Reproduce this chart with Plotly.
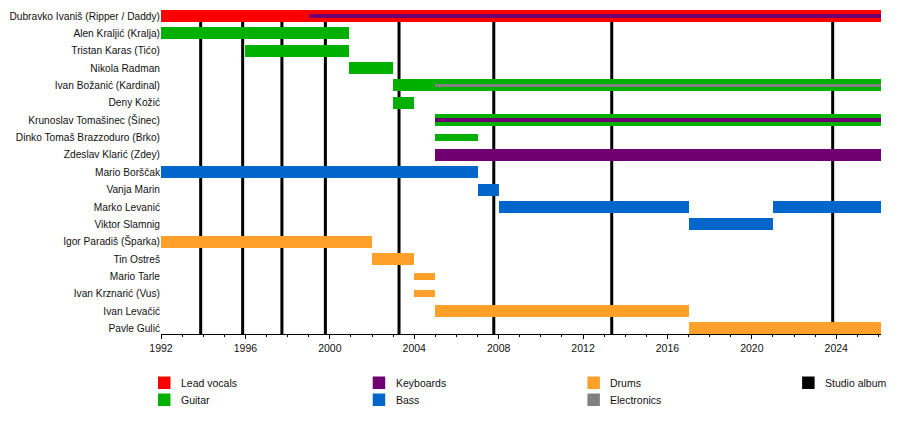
import plotly.graph_objects as go

# --- data ---
END = 2026.12

members = [
    "Dubravko Ivaniš (Ripper / Daddy)",
    "Alen Kraljić (Kralja)",
    "Tristan Karas (Tićo)",
    "Nikola Radman",
    "Ivan Božanić (Kardinal)",
    "Deny Kožić",
    "Krunoslav Tomašinec (Šinec)",
    "Dinko Tomaš Brazzoduro (Brko)",
    "Zdeslav Klarić (Zdey)",
    "Mario Borščak",
    "Vanja Marin",
    "Marko Levanić",
    "Viktor Slamnig",
    "Igor Paradiš (Šparka)",
    "Tin Ostreš",
    "Mario Tarle",
    "Ivan Krznarić (Vus)",
    "Ivan Levačić",
    "Pavle Gulić",
]

vocals_who = ["Dubravko Ivaniš (Ripper / Daddy)"]
vocals_from = [1992]
vocals_to = [END]

guitar_who = ["Alen Kraljić (Kralja)", "Tristan Karas (Tićo)", "Nikola Radman",
              "Ivan Božanić (Kardinal)", "Deny Kožić", "Krunoslav Tomašinec (Šinec)",
              "Dinko Tomaš Brazzoduro (Brko)"]
guitar_from = [1992, 1996, 2000.9, 2003, 2003, 2005, 2005]
guitar_to = [2000.9, 2000.9, 2003, END, 2004, END, 2007]

bass_who = ["Mario Borščak", "Vanja Marin", "Marko Levanić", "Viktor Slamnig", "Marko Levanić"]
bass_from = [1992, 2007, 2008, 2017, 2021]
bass_to = [2007, 2008, 2017, 2021, END]

drums_who = ["Igor Paradiš (Šparka)", "Tin Ostreš", "Mario Tarle", "Ivan Krznarić (Vus)",
             "Ivan Levačić", "Pavle Gulić"]
drums_from = [1992, 2002, 2004, 2004, 2005, 2017]
drums_to = [2002, 2004, 2005, 2005, 2017, END]

keys_who = ["Zdeslav Klarić (Zdey)", "Dubravko Ivaniš (Ripper / Daddy)", "Krunoslav Tomašinec (Šinec)"]
keys_from = [2005, 1999, 2005]
keys_to = [END, END, END]

elec_who = ["Ivan Božanić (Kardinal)"]
elec_from = [2005]
elec_to = [END]

# short stints drawn with a narrower bar
short_stints = ["Dinko Tomaš Brazzoduro (Brko)", "Mario Tarle", "Ivan Krznarić (Vus)"]

albums = [1993.88, 1995.87, 1997.73, 1999.79, 2003.28, 2007.77, 2013.36, 2023.83]

# --- styling ---
FONT = "Liberation Sans, Arial, sans-serif"
FS = 10.5
colors = {
    "Lead vocals": "#ff0000",
    "Guitar": "#00b000",
    "Keyboards": "#700070",
    "Bass": "#0066cc",
    "Drums": "#ffa02a",
    "Electronics": "#808080",
    "Studio album": "#000000",
}
FULL, SHORT, THIN = 0.69, 0.40, 0.22

primary = set(vocals_who + guitar_who + bass_who + drums_who)


def bar(role, who, start, end, secondary=False):
    widths = []
    for w in who:
        if secondary and w in primary:
            widths.append(THIN)
        elif w in short_stints:
            widths.append(SHORT)
        else:
            widths.append(FULL)
    return go.Bar(
        orientation="h",
        y=[members.index(w) for w in who],
        base=start,
        x=[e - s for s, e in zip(start, end)],
        width=widths,
        marker=dict(color=colors[role], line=dict(width=0)),
        name=role,
        hoverinfo="skip",
    )


fig = go.Figure()
fig.add_trace(bar("Lead vocals", vocals_who, vocals_from, vocals_to))
fig.add_trace(bar("Guitar", guitar_who, guitar_from, guitar_to))
fig.add_trace(bar("Bass", bass_who, bass_from, bass_to))
fig.add_trace(bar("Drums", drums_who, drums_from, drums_to))
fig.add_trace(bar("Keyboards", keys_who, keys_from, keys_to, secondary=True))
fig.add_trace(bar("Electronics", elec_who, elec_from, elec_to, secondary=True))

# studio albums as vertical lines behind the bars
for a in albums:
    fig.add_shape(type="line", xref="x", yref="paper", x0=a, x1=a, y0=0, y1=1,
                  line=dict(color="black", width=3), layer="below")

# page body has an 8px margin, so the figure is 892x426 and all positions are shifted by 8
FW, FH = 892, 426
L, W, T, H = 153, 720, 2, 324
legend_cols = [["Lead vocals", "Guitar"], ["Keyboards", "Bass"],
               ["Drums", "Electronics"], ["Studio album"]]
for ci, col in enumerate(legend_cols):
    px0 = 150 + ci * 214.7
    for ri, role in enumerate(col):
        py0 = 368.5 + ri * 17
        fig.add_shape(type="rect", xref="paper", yref="paper",
                      x0=(px0 - L) / W, x1=(px0 + 12.5 - L) / W,
                      y0=(T + H - py0) / H, y1=(T + H - py0 - 12.5) / H,
                      fillcolor=colors[role], line=dict(width=0))
        fig.add_annotation(xref="paper", yref="paper", x=(px0 + 21 - L) / W,
                           y=(T + H - py0 - 6.5) / H, text=role, showarrow=False,
                           xanchor="left", yanchor="middle",
                           font=dict(family=FONT, size=FS, color="#111"))

fig.update_layout(
    width=FW, height=FH,
    margin=dict(l=L, r=FW - L - W, t=T, b=FH - T - H, autoexpand=False),
    barmode="overlay",
    bargap=0,
    showlegend=False,
    plot_bgcolor="white",
    paper_bgcolor="white",
    font=dict(family=FONT, size=FS, color="#111"),
)
fig.update_xaxes(
    range=[1992, END],
    tickvals=list(range(1992, 2026, 4)),
    ticks="outside", ticklen=4, tickcolor="black",
    minor=dict(dtick=1, ticks="outside", ticklen=2, tickcolor="black"),
    showline=True, linecolor="black", linewidth=1,
    showgrid=False, zeroline=False, automargin=False,
    tickfont=dict(family=FONT, size=FS, color="#111"),
)
fig.update_yaxes(
    range=[18.32, -0.345],
    tickvals=list(range(len(members))),
    ticktext=members,
    showgrid=False, zeroline=False, showline=False, ticks="",
    automargin=False,
    tickfont=dict(family=FONT, size=10.2, color="#111"),
)

fig.write_html("out.html")
